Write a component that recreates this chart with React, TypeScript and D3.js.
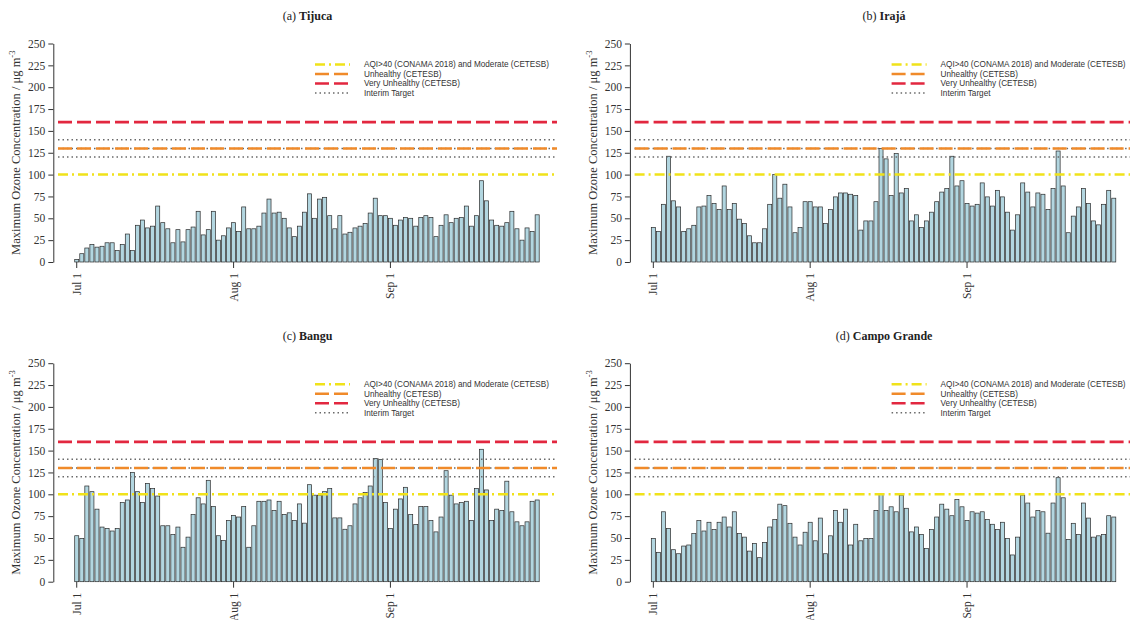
import React, { useRef, useEffect } from "react";
import * as d3 from "d3";

// daily maximum ozone, Jul 1 .. Sep 30 (92 days)
const tijuca = [3, 9.5, 16, 20, 17, 18, 22, 22, 13, 20, 32, 13, 42, 48, 39, 41, 64, 45, 38, 22, 37, 23, 37, 40, 58, 31, 37, 58, 25, 30, 39, 45, 35, 63, 38, 38, 41, 56, 72, 56, 57, 50, 39, 29, 41, 57, 78, 50, 72, 74, 53, 38, 53, 32, 34, 39, 41, 44, 56, 73, 53, 53, 50, 42, 48, 51, 50, 41, 51, 53, 51, 29, 42, 54, 45, 50, 51, 64, 41, 53, 93, 70, 48, 42, 41, 45, 58, 38, 25, 39, 35, 54];
const iraja = [39.5, 35, 66, 121, 70, 63, 35, 38, 42, 63, 64, 76, 67, 60, 87, 60, 67, 49, 44, 30, 22, 22, 38, 66, 100, 73, 89, 63, 33.5, 39.5, 69, 69, 63, 63, 44, 60, 74.5, 79, 79, 77.5, 76, 36.5, 47, 47, 69, 130, 118, 76, 124, 79, 84, 47, 54, 39.5, 47, 57, 69, 80, 84, 121, 87, 93, 67, 64, 66, 90.5, 74.5, 64, 82, 74.5, 57, 36.5, 54, 90.5, 80, 63, 79, 77.5, 60, 84, 127, 87, 33.5, 52.5, 63, 84, 67, 47, 42.5, 66, 82, 73];
const bangu = [52.6, 49.6, 109.5, 103, 83, 62.5, 61, 58, 61, 90.5, 93.5, 125, 103, 90.5, 112.5, 106.5, 98, 64, 64, 54, 62.5, 39.4, 51, 77, 96, 89, 116, 86, 52.6, 47, 70, 75.8, 74, 86, 39.4, 64, 92, 92, 93.5, 81.4, 92, 77, 78.8, 70, 89, 67, 111, 99, 99, 103, 106.5, 73, 73, 60, 64, 89, 96, 102, 109.5, 141, 140, 90.5, 61, 83, 94.7, 108, 77, 65.5, 86, 86, 70, 57, 74, 127, 99, 89, 90.5, 92, 70, 106.5, 151.5, 105, 70, 83, 81.4, 115, 80, 68.5, 64, 68.5, 92, 93.5];
const campoGrande = [49.4, 33.6, 80, 61, 36.6, 32, 40.8, 42, 55, 70, 58, 68, 59.6, 68, 74, 62.6, 80, 55, 51, 35, 43.8, 27.5, 45, 62.6, 71, 88.7, 87, 66.8, 51, 42, 56.6, 68, 46.8, 72.8, 32, 52.5, 81.5, 68, 83, 42, 65.7, 46.8, 49.4, 49.4, 81.5, 100, 81.5, 85.7, 80, 99, 84, 57, 62.6, 54, 38, 59.6, 74, 88.7, 83, 75.5, 94, 85.7, 70, 80, 78.5, 80, 71, 65.7, 59.6, 68, 49.4, 30.6, 51, 99, 90, 74, 81.5, 80, 55.5, 90, 119, 96, 48.3, 66.8, 54, 90, 72.8, 51, 52.5, 54, 75.5, 74];

const days = d3.timeDay.range(new Date(2019, 6, 1), new Date(2019, 9, 1));
const tickDays = [new Date(2019, 6, 1), new Date(2019, 7, 1), new Date(2019, 8, 1)];
const tickLabels = ["Jul 1", "Aug 1", "Sep 1"];
const yTicks = [0, 25, 50, 75, 100, 125, 150, 175, 200, 225, 250];

const panelLetters = ["(a)", "(b)", "(c)", "(d)"];
const stationNames = ["Tijuca", "Irajá", "Bangu", "Campo Grande"];
const stationSeries = [tijuca, iraja, bangu, campoGrande];

const legendLabels = [
  "AQI>40 (CONAMA 2018) and Moderate (CETESB)",
  "Unhealthy (CETESB)",
  "Very Unhealthy (CETESB)",
  "Interim Target",
];
const interimTargets = [120, 130, 140];
const moderateLevel = 100;
const unhealthyLevel = 130;
const veryUnhealthyLevel = 160;

const SERIF = "'Liberation Serif', 'Times New Roman', serif";
const SANS = "'Liberation Sans', Arial, sans-serif";

const styles = {
  yellow: { color: "#f0e21a", width: 2.5, dash: "10 4 2 4" },
  orange: { color: "#f08a2a", width: 2.5, dash: "14 5" },
  red: { color: "#e2273f", width: 2.6, dash: "14 5" },
  dotted: { color: "#6a6a6a", width: 1.5, dash: "1.5 3" },
};

function App() {
  const ref = useRef(null);

  useEffect(() => {
    const svg = d3.select(ref.current);
    svg.selectAll("*").remove();

    const dx = 576.6;
    const dy = 319.7;

    stationSeries.forEach((series, p) => {
      const ox = (p % 2) * dx;
      const oy = Math.floor(p / 2) * dy;
      const g = svg.append("g").attr("transform", `translate(${ox},${oy})`);

      const plotLeft = 58;
      const plotRight = 557;

      const x = d3
        .scaleBand()
        .domain(days.map((d) => +d))
        .range([74.2, 539.7])
        .paddingInner(0.2)
        .paddingOuter(0.1);
      const y = d3.scaleLinear().domain([0, 250]).range([262, 43.5]);

      // title
      const title = g
        .append("text")
        .attr("x", (plotLeft + plotRight) / 2)
        .attr("y", 20)
        .attr("text-anchor", "middle")
        .attr("font-family", SERIF)
        .attr("font-size", 12)
        .attr("fill", "#222");
      title.append("tspan").text(panelLetters[p] + " ");
      title.append("tspan").attr("font-weight", "bold").text(stationNames[p]);

      // bars
      g.selectAll("rect.bar")
        .data(series)
        .enter()
        .append("rect")
        .attr("class", "bar")
        .attr("x", (d, i) => x(+days[i]))
        .attr("y", (d) => y(d))
        .attr("width", x.bandwidth())
        .attr("height", (d) => y(0) - y(d))
        .attr("fill", "#b2d6e0")
        .attr("stroke", "#2a2a2a")
        .attr("stroke-width", 0.7);

      // reference lines
      const hline = (v, s) =>
        g
          .append("line")
          .attr("x1", plotLeft)
          .attr("x2", plotRight)
          .attr("y1", y(v))
          .attr("y2", y(v))
          .attr("stroke", s.color)
          .attr("stroke-width", s.width)
          .attr("stroke-dasharray", s.dash);
      hline(moderateLevel, styles.yellow);
      interimTargets.forEach((v) => hline(v, styles.dotted));
      hline(unhealthyLevel, styles.orange);
      hline(veryUnhealthyLevel, styles.red);

      // y axis
      const yAxisG = g
        .append("g")
        .attr("transform", "translate(53.3,0)")
        .call(d3.axisLeft(y).tickValues(yTicks).tickSize(5).tickSizeOuter(0).tickPadding(3));
      yAxisG.select(".domain").attr("stroke", "#333");
      yAxisG.selectAll(".tick line").attr("stroke", "#333");
      yAxisG
        .selectAll("text")
        .attr("font-family", SERIF)
        .attr("font-size", 11.5)
        .attr("fill", "#333");

      const yl = g
        .append("text")
        .attr("transform", `translate(20,${(y(0) + y(250)) / 2}) rotate(-90)`)
        .attr("text-anchor", "middle")
        .attr("font-family", SERIF)
        .attr("font-size", 12.5)
        .attr("fill", "#333");
      yl.append("tspan").text("Maximum  Ozone  Concentration / \u03bcg m");
      yl.append("tspan").attr("dy", -5).attr("font-size", 8.5).text("-3");

      // x axis
      const xAxisG = g
        .append("g")
        .attr("transform", `translate(0,${y(0)})`)
        .call(
          d3
            .axisBottom(x)
            .tickValues(tickDays.map((d) => +d))
            .tickFormat((d, i) => tickLabels[i])
            .tickSize(6)
            .tickSizeOuter(0)
        );
      xAxisG.select(".domain").remove();
      xAxisG.selectAll(".tick line").attr("stroke", "#333");
      xAxisG
        .selectAll("text")
        .attr("font-family", SERIF)
        .attr("font-size", 11.5)
        .attr("fill", "#333")
        .attr("text-anchor", "end")
        .attr("dy", "0.35em")
        .attr("transform", "translate(0,11) rotate(-90)")
        .attr("y", 0)
        .attr("x", 0);

      // legend
      const legendRows = [64.5, 74, 83.5, 93];
      const legendStyles = [styles.yellow, styles.orange, styles.red, styles.dotted];
      legendLabels.forEach((lab, i) => {
        const s = legendStyles[i];
        g.append("line")
          .attr("x1", 315)
          .attr("x2", 350)
          .attr("y1", legendRows[i])
          .attr("y2", legendRows[i])
          .attr("stroke", s.color)
          .attr("stroke-width", s.width)
          .attr("stroke-dasharray", s.dash);
        g.append("text")
          .attr("x", 364)
          .attr("y", legendRows[i])
          .attr("dy", "0.35em")
          .attr("font-family", SANS)
          .attr("font-size", 8.2)
          .attr("fill", "#333")
          .text(lab);
      });
    });
  }, []);

  return (
    <svg
      ref={ref}
      width={1130}
      height={620}
      style={{ position: "absolute", left: 0, top: 0, background: "#fff" }}
    />
  );
}

export default App;
